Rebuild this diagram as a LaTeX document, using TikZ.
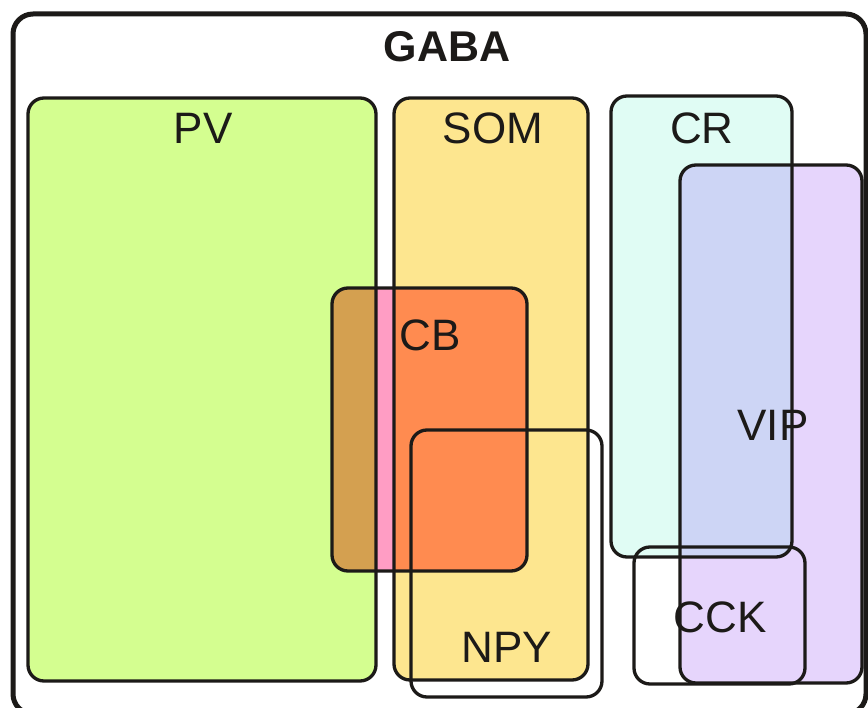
\documentclass[tikz,border=0pt]{standalone}
\usepackage{fontspec}
\setmainfont{Liberation Sans}
\definecolor{ink}{HTML}{1C1A18}
\definecolor{pvc}{HTML}{D4FE90}
\definecolor{somc}{HTML}{FDE68F}
\definecolor{crc}{HTML}{E0FCF4}
\definecolor{vipc}{HTML}{E6D5FC}
\definecolor{crvip}{HTML}{CDD5F5}
\definecolor{cbc}{HTML}{FF9DC4}
\definecolor{cbpv}{HTML}{D4A050}
\definecolor{cbsom}{HTML}{FF8B50}
\begin{document}
\begin{tikzpicture}[x=1pt,y=-1pt,
  box/.style={rounded corners=16pt, line width=3.3pt, draw=ink},
  fillbox/.style={rounded corners=16pt},
  lab/.style={font=\fontsize{44}{44}\selectfont, text=ink, inner sep=0pt}]
\useasboundingbox (0,0) rectangle (868,708);
\clip (0,0) rectangle (868,708);
\fill[white] (0,0) rectangle (868,708);
% fills
\fill[pvc, fillbox] (28,98) rectangle (376,681);
\fill[somc, fillbox] (394,98) rectangle (588,680);
\fill[crc, fillbox] (611,96) rectangle (792,557);
\fill[vipc, fillbox] (680,165) rectangle (862,683);
\begin{scope}
  \clip[rounded corners=16pt] (611,96) rectangle (792,557);
  \fill[crvip, fillbox] (680,165) rectangle (862,683);
\end{scope}
\fill[cbc, fillbox] (332,288) rectangle (527,571);
\begin{scope}
  \clip[rounded corners=16pt] (332,288) rectangle (527,571);
  \fill[cbpv, fillbox] (28,98) rectangle (376,681);
  \fill[cbsom, fillbox] (394,98) rectangle (588,680);
\end{scope}
% outlines
\draw[rounded corners=20pt, line width=5pt, draw=ink] (13,14) rectangle (866,714);
\draw[box] (28,98) rectangle (376,681);
\draw[box] (394,98) rectangle (588,680);
\draw[box] (611,96) rectangle (792,557);
\draw[box] (680,165) rectangle (862,683);
\draw[box] (332,288) rectangle (527,571);
\draw[box] (411,430) rectangle (602,697);
\draw[box] (634,547) rectangle (805,684);
% labels
\node[lab, font=\fontsize{43}{43}\selectfont\bfseries] (gaba) at (447,47) {GABA};
\node[lab] (pv) at (203,128) {PV};
\node[lab] (som) at (493,128) {SOM};
\node[lab] (cr) at (702,128) {CR};
\node[lab] (cb) at (430,335) {CB};
\node[lab] (vip) at (773,425) {VIP};
\node[lab] (npy) at (507,647) {NPY};
\node[lab] (cck) at (720,617) {CCK};
\end{tikzpicture}
\end{document}
